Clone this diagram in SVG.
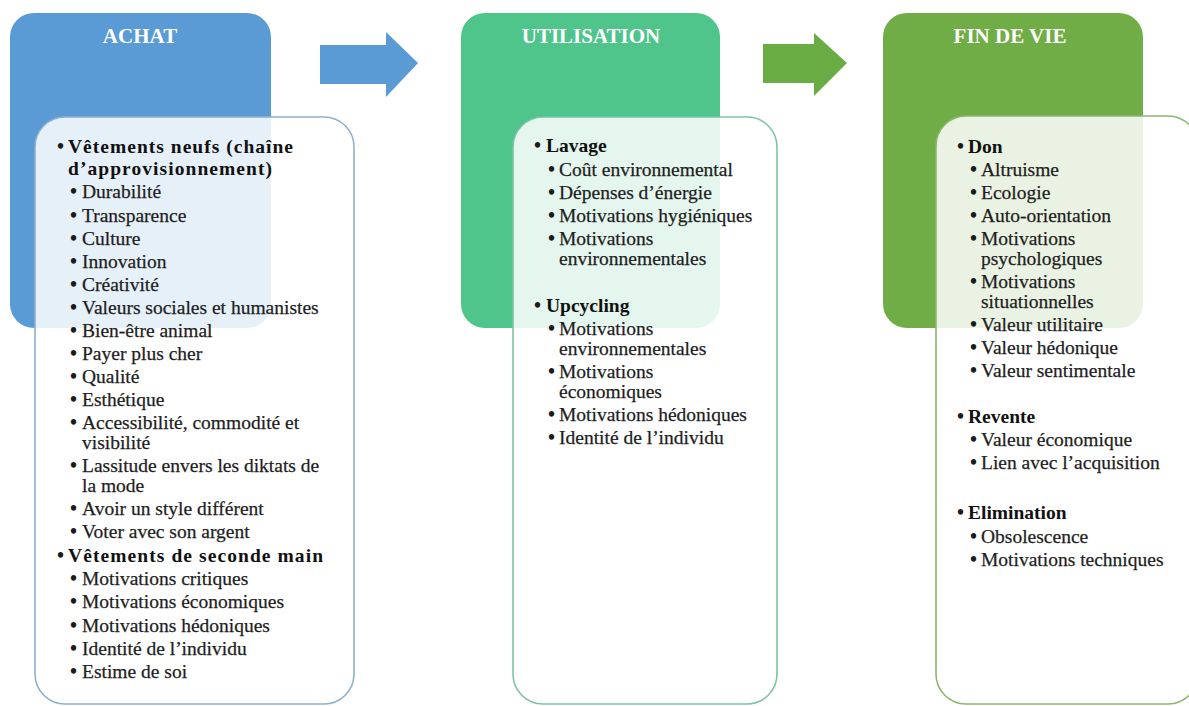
<svg xmlns="http://www.w3.org/2000/svg" width="1189" height="706" viewBox="0 0 1189 706">
<style>
.hd{font-family:"Liberation Serif","Times New Roman",serif;font-weight:bold;font-size:21px;fill:#ffffff;text-anchor:middle}
.t{font-family:"Liberation Serif","Times New Roman",serif;font-size:19.5px;fill:#1e1e1e;stroke:#1e1e1e;stroke-width:0.25}
.b{font-family:"Liberation Serif","Times New Roman",serif;font-size:19.5px;font-weight:bold;fill:#111111}
.bl{font-family:"Liberation Serif","Times New Roman",serif;font-size:20px;font-weight:bold;fill:#1a1a1a}
.body{fill:#ffffff;fill-opacity:0.85;stroke-width:1.6}
</style>
<rect width="1189" height="706" fill="#ffffff"/>

<g id="achat">
  <rect x="10" y="13" width="261" height="315" rx="24" fill="#5b9bd5"/>
  <text class="hd" x="140" y="43">ACHAT</text>
</g>
<g id="utilisation">
  <rect x="461" y="13" width="259" height="315" rx="24" fill="#4fc48b"/>
  <text class="hd" x="591" y="43">UTILISATION</text>
</g>
<g id="fin-de-vie">
  <rect x="883" y="13" width="260" height="315" rx="24" fill="#70ad47"/>
  <text class="hd" x="1010" y="43">FIN DE VIE</text>
</g>

<g id="connectors">
  <polygon points="320,45 386,45 386,32 418,63 386,97 386,84 320,84" fill="#5b9bd5"/>
  <polygon points="763,44 814,44 814,33 847,63 814,96 814,83 763,83" fill="#6aac44"/>
</g>

<g id="achat-details">
  <rect class="body" x="35" y="117" width="319" height="587" rx="30" stroke="#8fb0cc"/>
  <text class="bl" x="57" y="153">•</text><text class="b" x="68" y="153" textLength="225" lengthAdjust="spacing">Vêtements neufs (chaîne</text>
  <text class="b" x="68" y="175" textLength="204" lengthAdjust="spacing">d’approvisionnement)</text>
  <text class="bl" x="70" y="198">•</text><text class="t" x="82" y="198">Durabilité</text>
  <text class="bl" x="70" y="222">•</text><text class="t" x="82" y="222">Transparence</text>
  <text class="bl" x="70" y="245">•</text><text class="t" x="82" y="245">Culture</text>
  <text class="bl" x="70" y="268">•</text><text class="t" x="82" y="268">Innovation</text>
  <text class="bl" x="70" y="291">•</text><text class="t" x="82" y="291">Créativité</text>
  <text class="bl" x="70" y="314">•</text><text class="t" x="82" y="314">Valeurs sociales et humanistes</text>
  <text class="bl" x="70" y="337">•</text><text class="t" x="82" y="337">Bien-être animal</text>
  <text class="bl" x="70" y="360">•</text><text class="t" x="82" y="360">Payer plus cher</text>
  <text class="bl" x="70" y="383">•</text><text class="t" x="82" y="383">Qualité</text>
  <text class="bl" x="70" y="406">•</text><text class="t" x="82" y="406">Esthétique</text>
  <text class="bl" x="70" y="429">•</text><text class="t" x="82" y="429">Accessibilité, commodité et</text>
  <text class="t" x="82" y="449">visibilité</text>
  <text class="bl" x="70" y="472">•</text><text class="t" x="82" y="472">Lassitude envers les diktats de</text>
  <text class="t" x="82" y="492">la mode</text>
  <text class="bl" x="70" y="515">•</text><text class="t" x="82" y="515">Avoir un style différent</text>
  <text class="bl" x="70" y="538">•</text><text class="t" x="82" y="538">Voter avec son argent</text>
  <text class="bl" x="57" y="562">•</text><text class="b" x="68" y="562" textLength="255" lengthAdjust="spacing">Vêtements de seconde main</text>
  <text class="bl" x="70" y="585">•</text><text class="t" x="82" y="585">Motivations critiques</text>
  <text class="bl" x="70" y="608">•</text><text class="t" x="82" y="608">Motivations économiques</text>
  <text class="bl" x="70" y="632">•</text><text class="t" x="82" y="632">Motivations hédoniques</text>
  <text class="bl" x="70" y="655">•</text><text class="t" x="82" y="655">Identité de l’individu</text>
  <text class="bl" x="70" y="678">•</text><text class="t" x="82" y="678">Estime de soi</text>
</g>

<g id="utilisation-details">
  <rect class="body" x="513" y="117" width="264" height="587" rx="30" stroke="#7fc3a2"/>
  <text class="bl" x="534" y="152">•</text><text class="b" x="546" y="152">Lavage</text>
  <text class="bl" x="548" y="176">•</text><text class="t" x="559" y="176">Coût environnemental</text>
  <text class="bl" x="548" y="199">•</text><text class="t" x="559" y="199">Dépenses d’énergie</text>
  <text class="bl" x="548" y="222">•</text><text class="t" x="559" y="222">Motivations hygiéniques</text>
  <text class="bl" x="548" y="245">•</text><text class="t" x="559" y="245">Motivations</text>
  <text class="t" x="559" y="265">environnementales</text>
  <text class="bl" x="534" y="312">•</text><text class="b" x="546" y="312">Upcycling</text>
  <text class="bl" x="548" y="335">•</text><text class="t" x="559" y="335">Motivations</text>
  <text class="t" x="559" y="355">environnementales</text>
  <text class="bl" x="548" y="378">•</text><text class="t" x="559" y="378">Motivations</text>
  <text class="t" x="559" y="398">économiques</text>
  <text class="bl" x="548" y="421">•</text><text class="t" x="559" y="421">Motivations hédoniques</text>
  <text class="bl" x="548" y="444">•</text><text class="t" x="559" y="444">Identité de l’individu</text>
</g>

<g id="fin-de-vie-details">
  <rect class="body" x="936" y="116" width="262" height="588" rx="30" stroke="#8fb670"/>
  <text class="bl" x="957" y="153">•</text><text class="b" x="968" y="153">Don</text>
  <text class="bl" x="970" y="176">•</text><text class="t" x="981" y="176">Altruisme</text>
  <text class="bl" x="970" y="199">•</text><text class="t" x="981" y="199">Ecologie</text>
  <text class="bl" x="970" y="222">•</text><text class="t" x="981" y="222">Auto-orientation</text>
  <text class="bl" x="970" y="245">•</text><text class="t" x="981" y="245">Motivations</text>
  <text class="t" x="981" y="265">psychologiques</text>
  <text class="bl" x="970" y="288">•</text><text class="t" x="981" y="288">Motivations</text>
  <text class="t" x="981" y="308">situationnelles</text>
  <text class="bl" x="970" y="331">•</text><text class="t" x="981" y="331">Valeur utilitaire</text>
  <text class="bl" x="970" y="354">•</text><text class="t" x="981" y="354">Valeur hédonique</text>
  <text class="bl" x="970" y="377">•</text><text class="t" x="981" y="377">Valeur sentimentale</text>
  <text class="bl" x="957" y="423">•</text><text class="b" x="968" y="423">Revente</text>
  <text class="bl" x="970" y="446">•</text><text class="t" x="981" y="446">Valeur économique</text>
  <text class="bl" x="970" y="469">•</text><text class="t" x="981" y="469">Lien avec l’acquisition</text>
  <text class="bl" x="957" y="519">•</text><text class="b" x="968" y="519">Elimination</text>
  <text class="bl" x="970" y="543">•</text><text class="t" x="981" y="543">Obsolescence</text>
  <text class="bl" x="970" y="566">•</text><text class="t" x="981" y="566">Motivations techniques</text>
</g>
</svg>
